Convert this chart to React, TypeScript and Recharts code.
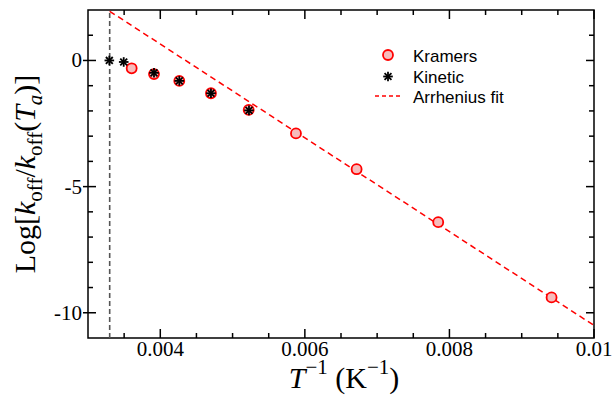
import { ComposedChart, Scatter, XAxis, YAxis, ReferenceLine, ReferenceArea, Legend } from 'recharts';

// 1/T (K^-1) vs Log[k_off/k_off(T_a)]
const kramersInvT = [0.003604, 0.003913, 0.004263, 0.004701, 0.005223, 0.005877, 0.006716, 0.007845, 0.009413];
const kramersLog = [-0.31, -0.54, -0.81, -1.3, -1.96, -2.89, -4.31, -6.41, -9.39];

const kineticInvT = [0.003295, 0.003494, 0.003913, 0.004263, 0.004701, 0.005227];
const kineticLog = [0.0, -0.06, -0.49, -0.81, -1.3, -1.98];

// Arrhenius fit: end points of the straight line
const fitInvT = [0.0033, 0.01];
const fitLog = [1.95, -10.5];

// 1/T_a, dashed vertical marker
const refInvT = 0.0033;

const xDomain = [0.003, 0.01];
const yDomain = [-11, 2];
const xMajorTicks = [0.004, 0.006, 0.008, 0.01];
const xMinorTicks = [0.0035, 0.0045, 0.005, 0.0055, 0.0065, 0.007, 0.0075, 0.0085, 0.009, 0.0095];
const yMajorTicks = [-10, -5, 0];
const yMinorTicks = [-9, -8, -7, -6, -4, -3, -2, -1, 1];

const seriesNames = ['Kramers', 'Kinetic', 'Arrhenius fit'];

const W = 614;
const H = 401;
const MARGIN = { top: 10, right: 20, bottom: 0, left: 0 };
const Y_AXIS_W = 88;
const X_AXIS_H = 63;
const PLOT_W = W - MARGIN.left - MARGIN.right - Y_AXIS_W;
const PLOT_H = H - MARGIN.top - MARGIN.bottom - X_AXIS_H;

const RED = '#ff0000';
const SERIF = '"Liberation Serif", "Times New Roman", serif';
const SANS = '"Liberation Sans", Arial, sans-serif';

const zip = (xs: number[], ys: number[]) => xs.map((x, i) => ({ x, y: ys[i] }));
const kramersData = zip(kramersInvT, kramersLog);
const kineticData = zip(kineticInvT, kineticLog);
const fitData = zip(fitInvT, fitLog);

const isIn = (v: number, list: number[]) => list.some((t) => Math.abs(t - v) < 1e-9);

function Ring({ cx, cy }: { cx: number; cy: number }) {
  return <circle cx={cx} cy={cy} r={5} fill="#f6bcbc" stroke={RED} strokeWidth={1.8} />;
}

function KramersDot(props: any) {
  const { cx, cy } = props;
  if (cx == null || cy == null) return <g />;
  return <Ring cx={cx} cy={cy} />;
}

function Star({ cx, cy }: { cx: number; cy: number }) {
  const r = 4.8;
  const d = r * 0.72;
  return (
    <g stroke="#000" strokeWidth={1.8}>
      <line x1={cx} y1={cy - r} x2={cx} y2={cy + r} />
      <line x1={cx - r} y1={cy} x2={cx + r} y2={cy} />
      <line x1={cx - d} y1={cy - d} x2={cx + d} y2={cy + d} />
      <line x1={cx - d} y1={cy + d} x2={cx + d} y2={cy - d} />
    </g>
  );
}

function KineticDot(props: any) {
  const { cx, cy } = props;
  if (cx == null || cy == null) return <g />;
  return <Star cx={cx} cy={cy} />;
}

function XTick(props: any) {
  const { x, y, payload } = props;
  const major = isIn(payload.value, xMajorTicks);
  const len = major ? 9 : 5;
  const top = y - PLOT_H;
  return (
    <g stroke="#000" strokeWidth={1.5}>
      <line x1={x} y1={y} x2={x} y2={y - len} />
      <line x1={x} y1={top} x2={x} y2={top + len} />
      {major && (
        <text x={x} y={y + 18} textAnchor="middle" fontSize={21} style={{ fontFamily: SERIF }} fill="#000" stroke="none">
          {String(payload.value)}
        </text>
      )}
    </g>
  );
}

function YTick(props: any) {
  const { x, y, payload } = props;
  const major = isIn(payload.value, yMajorTicks);
  const right = x + PLOT_W;
  return (
    <g stroke="#000" strokeWidth={1.5}>
      {major ? <line x1={x - 5} y1={y} x2={x + 8} y2={y} /> : <line x1={x} y1={y} x2={x + 5} y2={y} />}
      <line x1={right} y1={y} x2={right - (major ? 8 : 5)} y2={y} />
      {major && (
        <text x={x - 6} y={y + 7} textAnchor="end" fontSize={21} style={{ fontFamily: SERIF }} fill="#000" stroke="none">
          {String(payload.value)}
        </text>
      )}
    </g>
  );
}

function XLabel(props: any) {
  const vb = props.viewBox;
  const cx = vb.x + vb.width / 2 + 3;
  return (
    <text x={cx} y={vb.y + 50} textAnchor="middle" fontSize={30} style={{ fontFamily: SERIF }} fill="#000">
      <tspan fontStyle="italic">T</tspan>
      <tspan fontSize={21} dy={-14}>−1</tspan>
      <tspan dy={14}>{' (K'}</tspan>
      <tspan fontSize={21} dy={-14}>−1</tspan>
      <tspan dy={14}>)</tspan>
    </text>
  );
}

function YLabel(props: any) {
  const vb = props.viewBox;
  const cx = vb.x + 35;
  const cy = vb.y + vb.height / 2;
  return (
    <text
      x={cx}
      y={cy}
      transform={`rotate(-90, ${cx}, ${cy})`}
      textAnchor="middle"
      fontSize={30}
      style={{ fontFamily: SERIF }}
      fill="#000"
    >
      <tspan>Log[</tspan>
      <tspan fontStyle="italic">k</tspan>
      <tspan fontSize={21} dy={7}>off</tspan>
      <tspan dy={-7}>/</tspan>
      <tspan fontStyle="italic">k</tspan>
      <tspan fontSize={21} dy={7}>off</tspan>
      <tspan dy={-7}>(</tspan>
      <tspan fontStyle="italic">T</tspan>
      <tspan fontSize={21} fontStyle="italic" dy={7}>a</tspan>
      <tspan dy={-7}>)]</tspan>
    </text>
  );
}

function LegendBox() {
  return (
    <svg width={200} height={80} style={{ display: 'block' }}>
      <Ring cx={28} cy={15} />
      <text x={53} y={22} fontSize={17} style={{ fontFamily: SANS }} fill="#000">{seriesNames[0]}</text>
      <Star cx={28} cy={36.5} />
      <text x={53} y={42.5} fontSize={17} style={{ fontFamily: SANS }} fill="#000">{seriesNames[1]}</text>
      <line x1={15} y1={56} x2={43} y2={56} stroke={RED} strokeWidth={1.5} strokeDasharray="4 3" />
      <text x={53} y={62.5} fontSize={17} style={{ fontFamily: SANS }} fill="#000">{seriesNames[2]}</text>
    </svg>
  );
}

export default function App() {
  return (
    <div style={{ position: 'absolute', left: 0, top: 0, width: W, height: H, background: '#fff' }}>
      <ComposedChart width={W} height={H} margin={MARGIN}>
        <XAxis
          type="number"
          dataKey="x"
          domain={xDomain}
          allowDataOverflow
          ticks={[...xMinorTicks, ...xMajorTicks].sort((a, b) => a - b)}
          interval={0}
          tick={XTick}
          tickLine={false}
          axisLine={false}
          tickSize={0}
          tickMargin={0}
          height={X_AXIS_H}
          label={XLabel}
        />
        <YAxis
          type="number"
          dataKey="y"
          domain={yDomain}
          allowDataOverflow
          ticks={[...yMinorTicks, ...yMajorTicks].sort((a, b) => a - b)}
          interval={0}
          tick={YTick}
          tickLine={false}
          axisLine={false}
          tickSize={0}
          tickMargin={0}
          width={Y_AXIS_W}
          label={YLabel}
        />
        <ReferenceArea
          x1={xDomain[0]}
          x2={xDomain[1]}
          y1={yDomain[0]}
          y2={yDomain[1]}
          fill="none"
          fillOpacity={0}
          stroke="#000"
          strokeWidth={1.5}
        />
        <ReferenceLine x={refInvT} stroke="#555" strokeWidth={1.6} strokeDasharray="5 3" />
        <Scatter
          name={seriesNames[2]}
          data={fitData}
          line={{ stroke: RED, strokeWidth: 1.5, strokeDasharray: '6 4' }}
          shape={() => <g />}
          isAnimationActive={false}
        />
        <Scatter name={seriesNames[0]} data={kramersData} shape={KramersDot} isAnimationActive={false} />
        <Scatter name={seriesNames[1]} data={kineticData} shape={KineticDot} isAnimationActive={false} />
        <Legend
          layout="horizontal"
          align="center"
          verticalAlign="middle"
          content={LegendBox}
          wrapperStyle={{ left: 360, top: 40, width: 200, height: 80 }}
        />
      </ComposedChart>
    </div>
  );
}
